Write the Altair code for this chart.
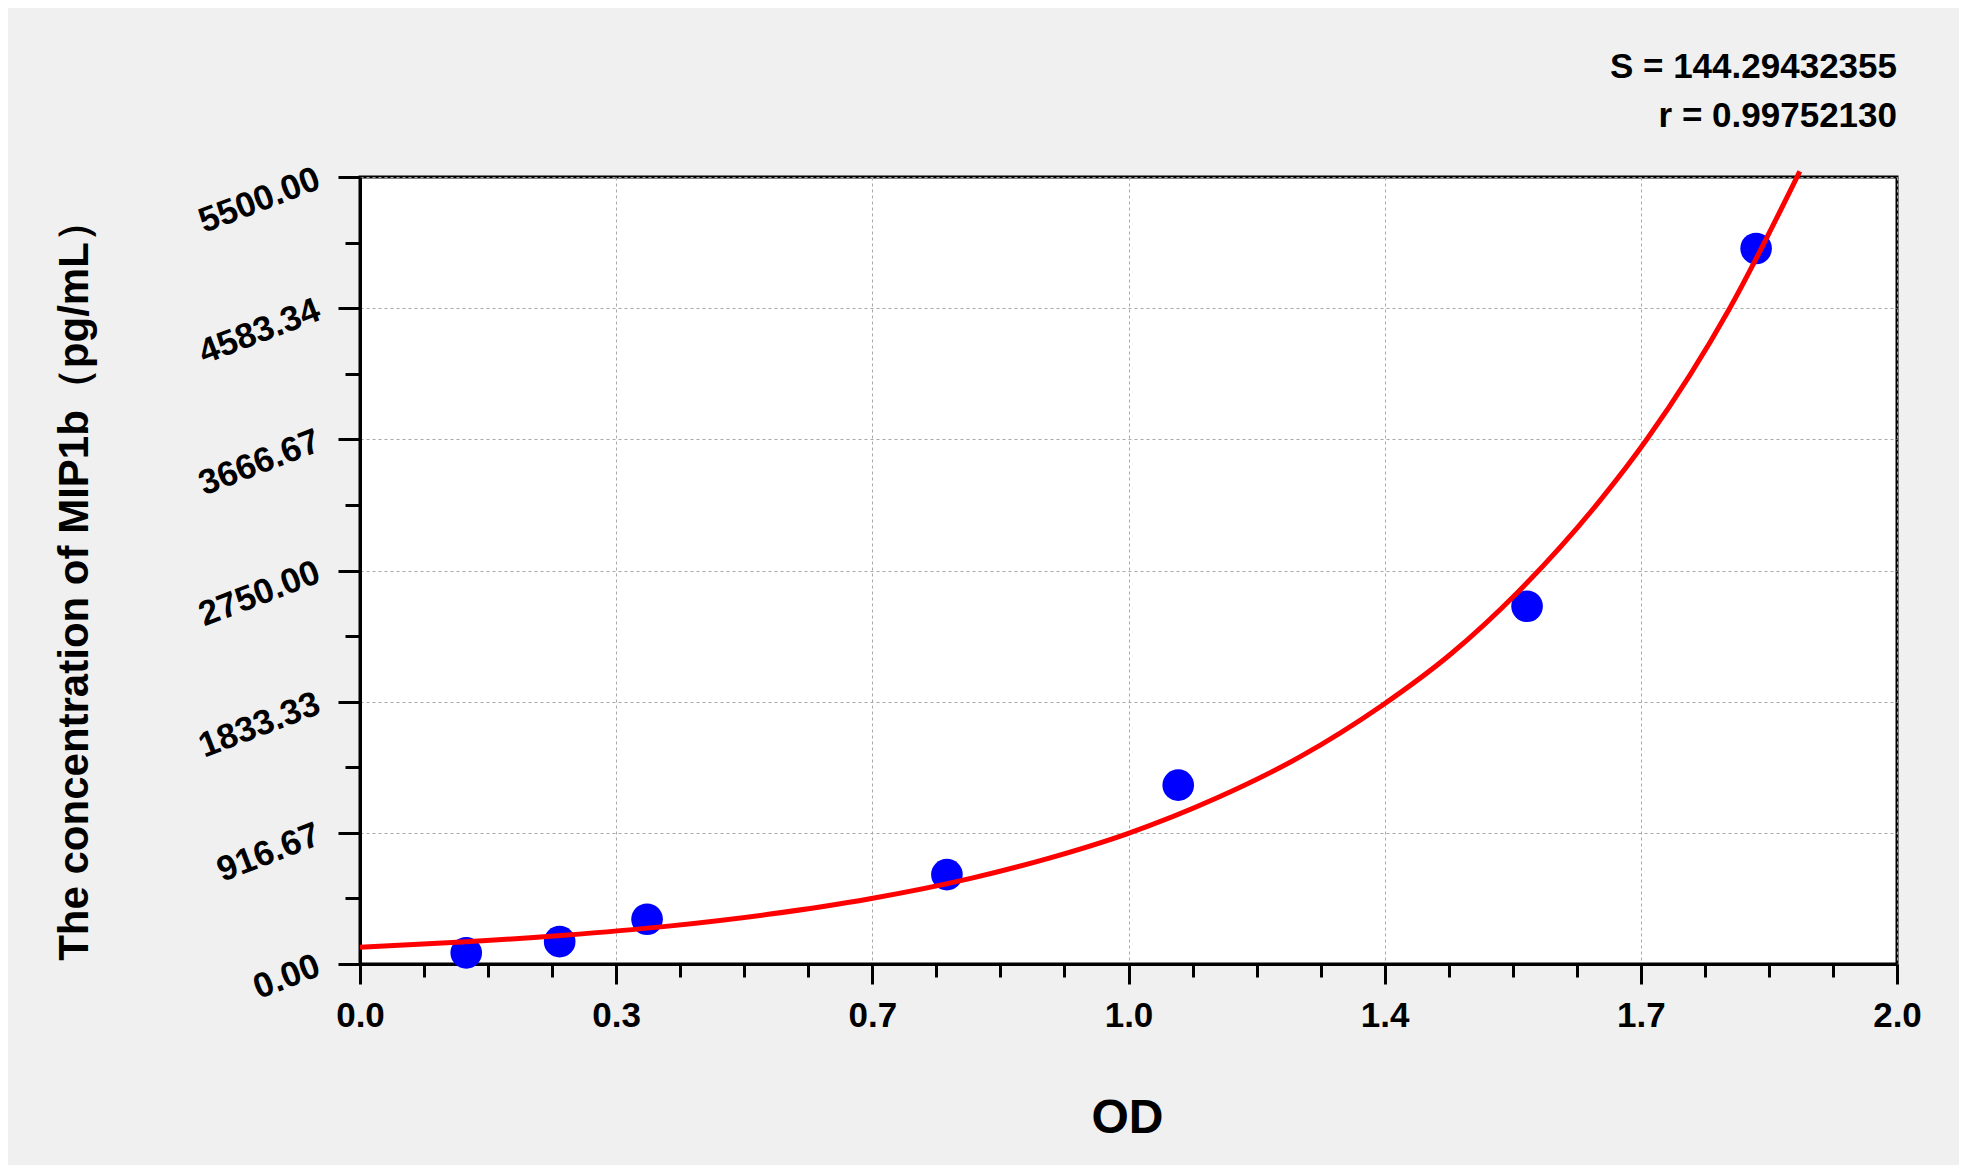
import altair as alt
import pandas as pd

# measured standards (OD vs concentration)
od = [0.141, 0.265, 0.381, 0.779, 1.086, 1.549, 1.853]
conc = [78.125, 156.25, 312.5, 625.0, 1250.0, 2500.0, 5000.0]

# fitted curve
curve_od = [0.0, 0.135, 0.271, 0.406, 0.542, 0.677, 0.812, 0.916, 1.018, 1.137,
            1.248, 1.356, 1.447, 1.536, 1.646, 1.708, 1.818, 1.911]
curve_conc = [117, 153, 201, 263, 347, 456, 600, 742, 910, 1160,
              1449, 1805, 2163, 2595, 3240, 3667, 4583, 5540]

x_major = [0.0, 0.34, 0.68, 1.02, 1.36, 1.70, 2.04]
y_major = [0.0, 916.67, 1833.33, 2750.0, 3666.67, 4583.34, 5500.0]
minor_div = 4

stats_text = ["S = 144.29432355", "r = 0.99752130"]
x_title = "OD"
y_title = "The concentration of MIP1b（pg/mL）"


def with_minor(major):
    vals = []
    for a, b in zip(major[:-1], major[1:]):
        for k in range(minor_div):
            vals.append(round(a + (b - a) * k / minor_div, 4))
    vals.append(major[-1])
    return vals


x_ticks = with_minor(x_major)
y_ticks = with_minor(y_major)

x_test = "indexof([" + ",".join(str(v) for v in x_major) + "], datum.value) >= 0"
y_test = "indexof([" + ",".join(str(v) for v in y_major) + "], datum.value) >= 0"

pts = pd.DataFrame({"od": od, "conc": conc})
crv = pd.DataFrame({"od": curve_od, "conc": curve_conc})

SANS = "Liberation Sans, Arial"

x_scale = alt.Scale(domain=[0, 2.04], nice=False, zero=False)
y_scale = alt.Scale(domain=[0, 5500], nice=False, zero=False)

x_axis = alt.Axis(
    values=x_ticks,
    labelExpr=x_test + " ? format(datum.value, '.1f') : ''",
    title=x_title,
    titleFont=SANS, titleFontSize=48, titleFontWeight="bold", titleColor="black",
    titleX=767, titleY=168, titleBaseline="alphabetic", titleAlign="center",
    labelFont=SANS, labelFontSize=35, labelFontWeight="bold", labelColor="black",
    labelPadding=14, labelOverlap=False, labelFlush=False,
    tickColor="black", tickWidth=3,
    tickSize={"condition": {"test": x_test, "value": 20}, "value": 13},
    domainColor="black", domainWidth=3,
    grid=True, gridColor="#a8a8a8", gridDash=[3, 3], gridWidth=1,
    gridOpacity={"condition": {"test": x_test, "value": 1}, "value": 0},
)

y_axis = alt.Axis(
    values=y_ticks,
    labelExpr=y_test + " ? format(datum.value, '.2f') : ''",
    title=y_title,
    titleFont=SANS, titleFontSize=42, titleFontWeight="bold", titleColor="black",
    titleX=-273, titleY=403, titleAngle=270, titleBaseline="alphabetic", titleAlign="center",
    labelFont=SANS, labelFontSize=35, labelFontWeight="bold", labelColor="black",
    labelAngle=339, labelAlign="right", labelBaseline="middle",
    labelPadding=20, labelOverlap=False, labelFlush=False,
    tickColor="black", tickWidth=3,
    tickSize={"condition": {"test": y_test, "value": 22}, "value": 15},
    domainColor="black", domainWidth=3,
    grid=True, gridColor="#a8a8a8", gridDash=[3, 3], gridWidth=1,
    gridOpacity={"condition": {"test": y_test, "value": 1}, "value": 0},
)

points = alt.Chart(pts).mark_circle(size=1000, color="#0000ff", opacity=1).encode(
    x=alt.X("od:Q", scale=x_scale, axis=x_axis),
    y=alt.Y("conc:Q", scale=y_scale, axis=y_axis),
)

line = alt.Chart(crv).mark_line(color="#ff0000", strokeWidth=5, interpolate="monotone", clip=False).encode(
    x=alt.X("od:Q", scale=x_scale),
    y=alt.Y("conc:Q", scale=y_scale),
)

chart = alt.layer(points, line).properties(
    width=1537,
    height=787,
    autosize=alt.AutoSizeParams(type="none"),
    padding={"left": 352, "top": 169, "right": 62, "bottom": 201},
    background="#f0f0f0",
    title=alt.TitleParams(
        text=stats_text,
        anchor="end",
        align="right",
        frame="group",
        font=SANS,
        fontSize=35,
        fontWeight="bold",
        color="black",
        lineHeight=49,
        offset=27,
    ),
).configure_view(
    fill="white",
    stroke="black",
    strokeWidth=3,
)

chart.save("out.html", embed_options={"renderer": "svg", "actions": False})
